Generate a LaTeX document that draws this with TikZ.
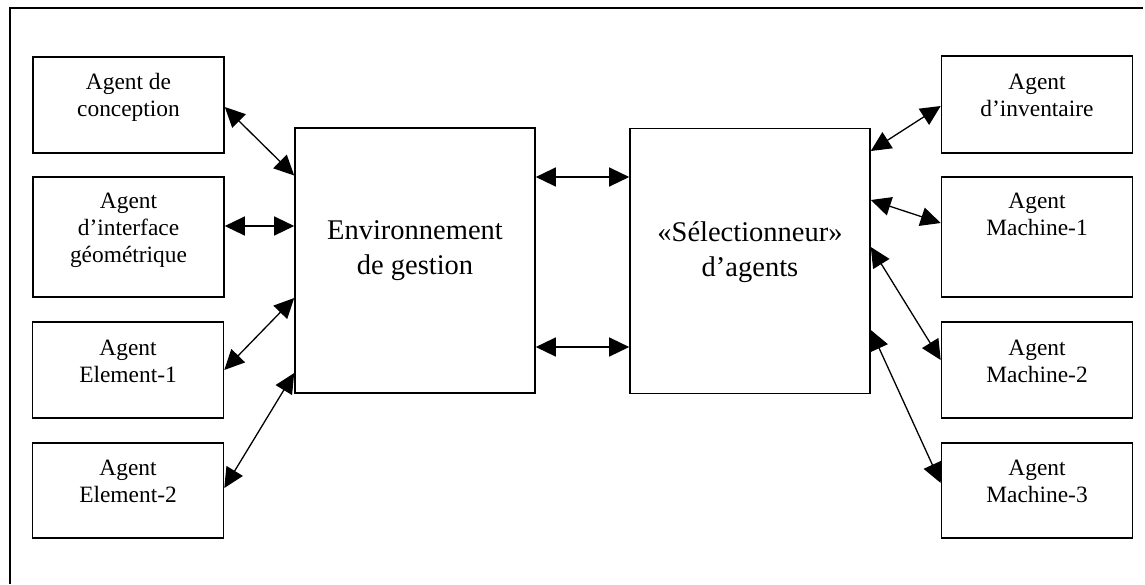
\documentclass[tikz,border=0pt]{standalone}
\usepackage{fontspec}
\setmainfont{Liberation Serif}
\usetikzlibrary{arrows.meta}

\tikzset{
  frameline/.style={line width=1.6pt},
  agentbox/.style={draw, line width=1.6pt, rectangle, inner sep=0pt,
    minimum width=191pt, minimum height=96pt},
  tallbox/.style={agentbox, minimum height=120pt},
  mainbox/.style={draw, line width=1.6pt, rectangle, inner sep=0pt,
    minimum width=240pt, minimum height=265pt},
  agenttext/.style={anchor=north, inner sep=0pt, align=center,
    font=\fontsize{23.4pt}{27pt}\selectfont},
  maintext/.style={anchor=north, inner sep=0pt, align=center,
    font=\fontsize{28.5pt}{35pt}\selectfont},
  link/.style={line width=1.3pt, {Triangle[length=20pt,width=19pt]}-{Triangle[length=20pt,width=19pt]}}
}

\begin{document}
\begin{tikzpicture}[x={(1pt,0)}, y={(0,-1pt)}]
  \useasboundingbox (0,0) rectangle (1145,584);

  % outer frame (only its top and left sides fall on the page)
  \draw[frameline] (10,584) -- (10,8) -- (1143,8);

  % central blocks
  \node[mainbox] (env) at (415,260.5) {};
  \node[maintext] (envt) at ([yshift=-93pt]env.north) {Environnement\\de gestion};
  \node[mainbox] (sel) at (750,261) {};
  \node[maintext] (selt) at ([yshift=-94pt]sel.north) {«Sélectionneur»\\d’agents};

  % agents on the left
  \node[agentbox] (conc) at (128.5,105) {};
  \node[agenttext] (conct) at ([yshift=-17pt]conc.north) {Agent de\\conception};
  \node[tallbox] (intf) at (128.5,237) {};
  \node[agenttext] (intft) at ([yshift=-17pt]intf.north) {Agent\\d’interface\\géométrique};
  \node[agentbox] (el1) at (128,370) {};
  \node[agenttext] (el1t) at ([yshift=-19pt]el1.north) {Agent\\Element-1};
  \node[agentbox, minimum height=95pt] (el2) at (128,490.5) {};
  \node[agenttext] (el2t) at ([yshift=-18pt]el2.north) {Agent\\Element-2};

  % agents on the right
  \node[agentbox, minimum height=97pt] (inv) at (1037,104.5) {};
  \node[agenttext] (invt) at ([yshift=-19pt]inv.north) {Agent\\d’inventaire};
  \node[tallbox] (m1) at (1037,237) {};
  \node[agenttext] (m1t) at ([yshift=-17pt]m1.north) {Agent\\Machine-1};
  \node[agentbox] (m2) at (1037,370) {};
  \node[agenttext] (m2t) at ([yshift=-19pt]m2.north) {Agent\\Machine-2};
  \node[agentbox, minimum height=95pt] (m3) at (1037,490.5) {};
  \node[agenttext] (m3t) at ([yshift=-18pt]m3.north) {Agent\\Machine-3};

  % links on the left
  \draw[link] ([yshift=-2pt]conc.east) -- ([yshift=85pt]env.west);
  \draw[link] ([yshift=11pt]intf.east) -- ([yshift=34.5pt]env.west);
  \draw[link] (el1.east) -- ([yshift=-37.5pt]env.west);
  \draw[link] ([yshift=2.5pt]el2.east) -- ([yshift=-112.5pt]env.west);

  % links between the central blocks
  \draw[link] ([yshift=83.5pt]env.east) -- ([yshift=84pt]sel.west);
  \draw[link] ([yshift=-86.5pt]env.east) -- ([yshift=-86pt]sel.west);

  % links on the right
  \draw[link] ([yshift=110pt]sel.east) -- ([yshift=-1.5pt]inv.west);
  \draw[link] ([yshift=61pt]sel.east) -- ([yshift=14pt]m1.west);
  \draw[link] ([yshift=14pt]sel.east) -- ([yshift=10pt]m2.west);
  \draw[link] ([yshift=-69pt]sel.east) -- ([yshift=7.5pt]m3.west);
\end{tikzpicture}
\end{document}
